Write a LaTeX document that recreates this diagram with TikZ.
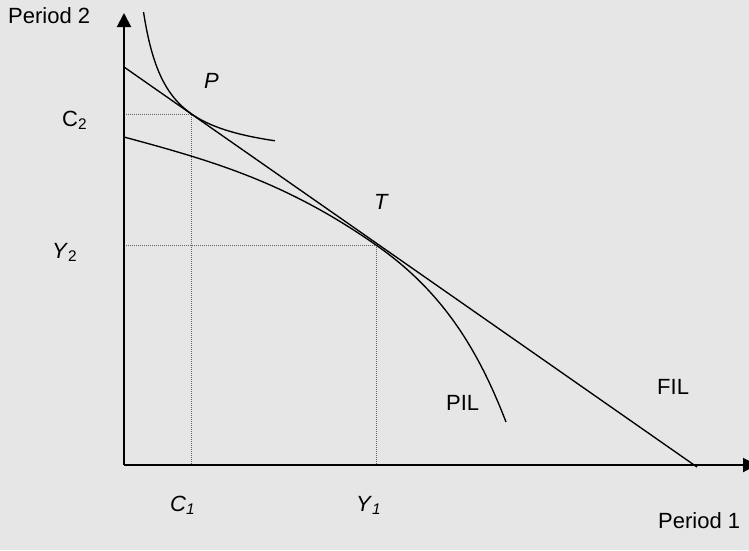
\documentclass[tikz,border=0pt]{standalone}
\usepackage{fontspec}
\setmainfont{Liberation Sans}
\usetikzlibrary{arrows.meta}
\definecolor{bg}{RGB}{230,230,230}
\definecolor{guidegray}{RGB}{100,100,100}
\tikzset{
  axisline/.style={line width=2pt, -{Triangle[length=14pt,width=14pt]}},
  curveline/.style={line width=1.35pt},
  guideline/.style={guidegray, line width=1pt, dash pattern=on 1pt off 1pt},
  lbl/.style={font=\fontsize{22}{26}\selectfont, inner sep=0pt, anchor=base west}
}
\begin{document}
\begin{tikzpicture}[x=1pt,y=-1pt]
\useasboundingbox[fill=bg] (0,0) rectangle (749,550);
% key points
\coordinate (O) at (124,465);
\coordinate (Ytip) at (124,13);
\coordinate (Xtip) at (757,465);
\coordinate (F1) at (124,67);
\coordinate (F2) at (697,467);
\coordinate (P) at (191,114);
\coordinate (T) at (376,245);
\coordinate (Pl) at (124,114);
\coordinate (Pb) at (191,465);
\coordinate (Tl) at (124,245);
\coordinate (Tb) at (376,465);
\coordinate (S) at (124,137);
\coordinate (E) at (506,422);
% guides
\draw[guideline] (Pl) -- (P) -- (Pb);
\draw[guideline] (Tl) -- (T) -- (Tb);
% axes
\draw[axisline] (O) -- (Ytip);
\draw[axisline] (O) -- (Xtip);
% FIL
\draw[curveline] (F1) -- (F2);
% PIL
\draw[curveline] (S) .. controls (214,161.3) and (286,182.2) .. (T)
  .. controls (441.8,290.9) and (477.6,348.2) .. (E);
% indifference curve
\draw[curveline] plot[domain=143.5:275, samples=120] (\x, {163.8 - 3568/(\x-120)});
% labels
\node[lbl] (lp2) at (8,23) {Period 2};
\node[lbl] (lc2) at (62,126) {C\textsubscript{2}};
\node[lbl] (lP) at (204,88) {\textit{P}};
\node[lbl] (lT) at (374,209) {\textit{T}};
\node[lbl] (ly2) at (52,258) {\textit{Y}\textsubscript{2}};
\node[lbl] (lpil) at (446,410) {PIL};
\node[lbl] (lfil) at (657,394) {FIL};
\node[lbl] (lc1) at (170,511) {\textit{C}\textsubscript{\textit{1}}};
\node[lbl] (ly1) at (356,511) {\textit{Y}\textsubscript{\textit{1}}};
\node[lbl] (lp1) at (658,528) {Period 1};
\end{tikzpicture}
\end{document}
